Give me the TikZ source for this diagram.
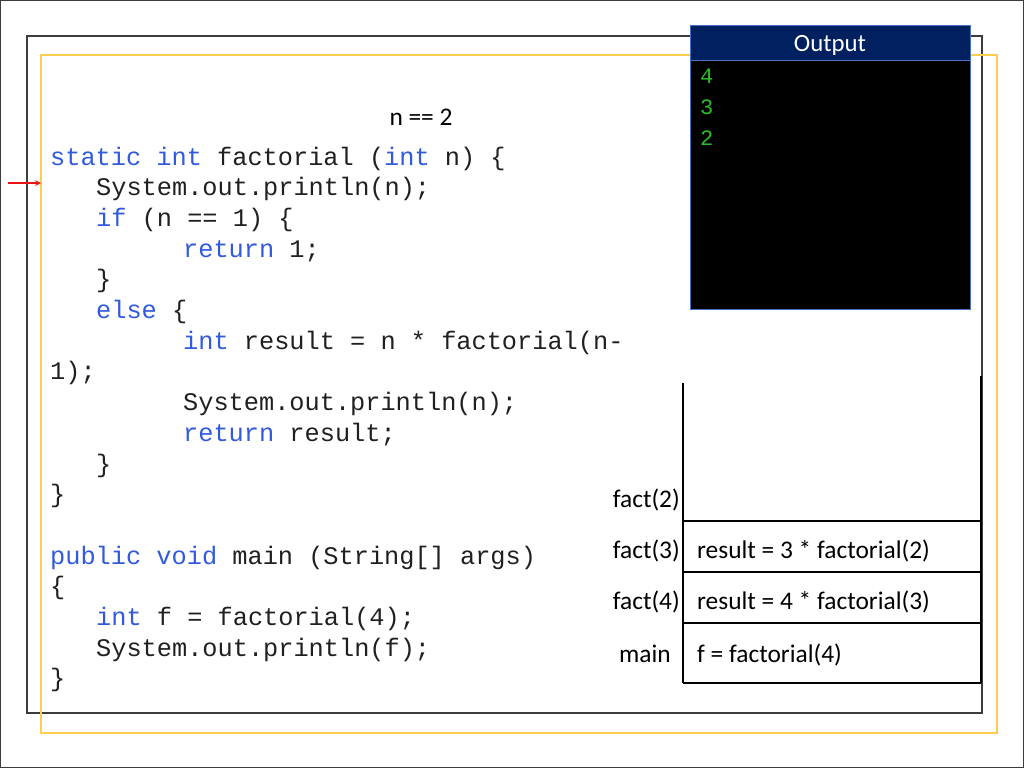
\documentclass[tikz,border=0pt]{standalone}
\usepackage{fontspec}
\setmainfont{Carlito}
\setmonofont{Liberation Mono}
\definecolor{kwblue}{RGB}{50,90,220}
\definecolor{codeblack}{RGB}{32,32,32}
\definecolor{navy}{RGB}{0,32,96}
\definecolor{boxblue}{RGB}{68,114,196}
\definecolor{frameyellow}{RGB}{255,204,80}
\definecolor{framegray}{RGB}{60,60,60}
\definecolor{outgreen}{RGB}{40,190,40}
\definecolor{arrowred}{RGB}{235,20,20}
\newcommand{\kw}[1]{\textcolor{kwblue}{#1}}
\tikzset{
  code/.style={anchor=base west, inner sep=0pt, text=codeblack,
    font=\fontsize{25.3}{30}\ttfamily},
  lbl/.style={inner sep=0pt, font=\fontsize{25.4}{30}\selectfont},
  outnum/.style={anchor=base west, inner sep=0pt, text=outgreen,
    font=\fontsize{22}{26}\ttfamily}
}
\begin{document}
\begin{tikzpicture}[x=1pt, y=-1pt]
    \useasboundingbox (0,0) rectangle (1024,768);
    \draw[framegray, line width=1pt] (0.5,0.5) rectangle (1023.5,767.5);

    % frames
    \draw[framegray, line width=1.8pt] (27,36) rectangle (982,713);
    \draw[frameyellow, line width=1.8pt] (41,55) rectangle (997,733);

    % output window
    \fill[black] (690,60) rectangle (970,309);
    \fill[navy] (690,25) rectangle (970,60);
    \draw[boxblue, line width=0.8pt] (690,25) rectangle (970,309);
    \draw[boxblue, line width=0.8pt] (690,60) -- (970,60);
    \node[lbl, anchor=base, text=white, font=\fontsize{24.8}{30}\selectfont] (outtitle) at (830,52) {Output};
    \foreach \v [count=\i from 0] in {4,3,2}
    \node[outnum] (out\v) at (700,83+31*\i) {\v};

    % current value
    \node[lbl, anchor=base] (nval) at (421,125) {n == 2};

    % code
    \node[code] (c1) at (50,165) {\kw{static} \kw{int} factorial (\kw{int} n) \{};
    \node[code] (c2) at (96,195.7) {System.out.println(n);};
    \node[code] (c3) at (96,226.4) {\kw{if} (n == 1) \{};
    \node[code] (c4) at (183,257.1) {\kw{return} 1;};
    \node[code] (c5) at (96,287.8) {\}};
    \node[code] (c6) at (96,318.5) {\kw{else} \{};
    \node[code] (c7) at (183,349.2) {\kw{int} result = n * factorial(n-};
    \node[code] (c8) at (50,379.9) {1);};
    \node[code] (c9) at (183,410.6) {System.out.println(n);};
    \node[code] (c10) at (183,441.3) {\kw{return} result;};
    \node[code] (c11) at (96,472) {\}};
    \node[code] (c12) at (50,502.7) {\}};
    \node[code] (m1) at (50,564.1) {\kw{public} \kw{void} main (String[] args)};
    \node[code] (m2) at (50,594.8) {\{};
    \node[code] (m3) at (96,625.5) {\kw{int} f = factorial(4);};
    \node[code] (m4) at (96,656.2) {System.out.println(f);};
    \node[code] (m5) at (50,686.9) {\}};

    % current line
    \coordinate (arrowtail) at (8,183);
    \coordinate (arrowtip) at (41,183);
    \draw[arrowred, line width=1.6pt, -stealth] (arrowtail) -- (arrowtip);

    % call stack
    \draw[line width=1.5pt] (683,383) -- (683,683);
    \draw[line width=1.5pt] (981,376) -- (981,683);
    \foreach \y in {521,572,623,683}
    \draw[line width=1.5pt] (683,\y) -- (981,\y);

    \node[lbl, anchor=base east] (f2) at (680,507) {fact(2)};
    \node[lbl, anchor=base east] (f3) at (680,558) {fact(3)};
    \node[lbl, anchor=base east] (f4) at (680,609) {fact(4)};
    \node[lbl, anchor=base] (fm) at (645,662) {main};
    \node[lbl, anchor=base west] (s3) at (697,558) {result = 3 * factorial(2)};
    \node[lbl, anchor=base west] (s4) at (697,609) {result = 4 * factorial(3)};
    \node[lbl, anchor=base west] (sm) at (697,662) {f = factorial(4)};

\end{tikzpicture}
\end{document}
